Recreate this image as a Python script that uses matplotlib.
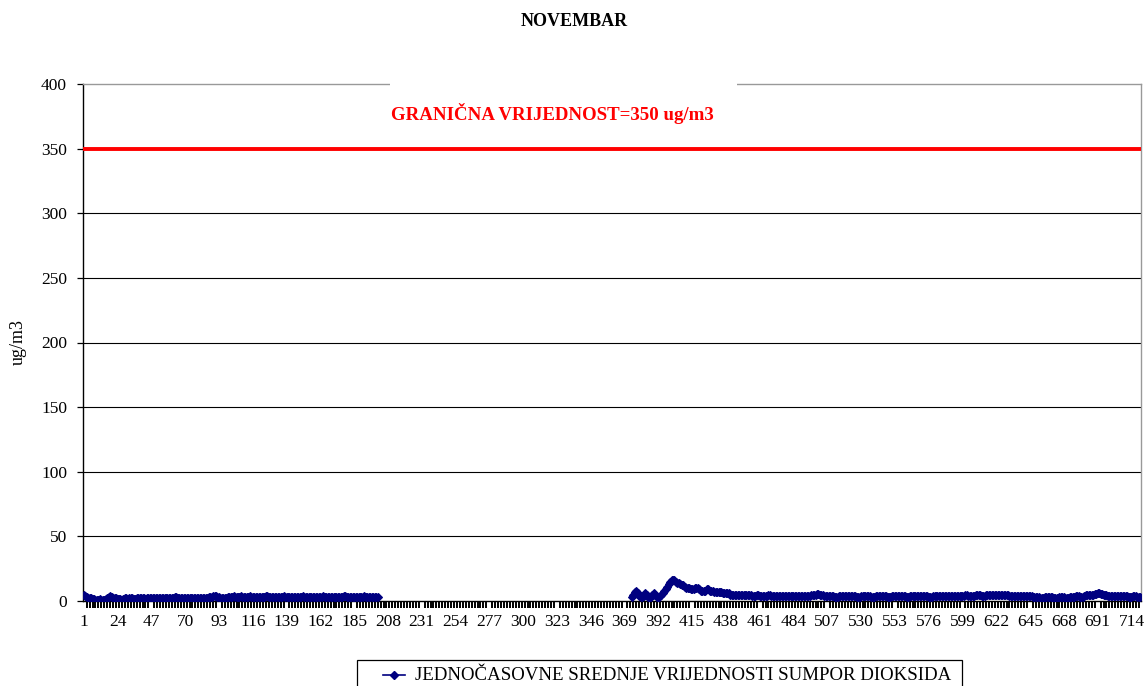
import numpy as np
import matplotlib
matplotlib.use("Agg")
import matplotlib.pyplot as plt
from matplotlib.lines import Line2D

title = "NOVEMBAR"
ylabel = "ug/m3"
limit_value = 350
limit_label = "GRANIČNA VRIJEDNOST=350 ug/m3"
series_label = "JEDNOČASOVNE SREDNJE VRIJEDNOSTI SUMPOR DIOKSIDA"
n_hours = 720
tick_labels = list(range(1, n_hours + 1, 23))
y_ticks = [0, 50, 100, 150, 200, 250, 300, 350, 400]

left_start = 1
left_values = [
    5, 4, 3, 2.5, 2, 2, 1.5, 1.5, 1, 1,
    1, 1.5, 1, 1, 1, 1.5, 2, 3, 3.5, 3,
    2.5, 2, 2, 1.5, 1.5, 1.5, 1, 1.5, 2, 2,
    1.5, 2, 2, 2, 1.5, 1.5, 2, 2, 2, 2,
    2, 2, 1.5, 2, 2, 2, 2, 2, 2.5, 2,
    2, 2, 2, 2.5, 2, 2, 2.5, 2.5, 2, 2,
    2.5, 2.5, 3, 3, 2.5, 2.5, 2, 2, 2, 2,
    2, 2, 2, 2, 2, 2, 2, 2, 2, 2.5,
    2.5, 2.5, 2.5, 2.5, 2.5, 3, 3, 3, 3.5, 3.5,
    3.5, 3, 3, 2.5, 2.5, 2, 2.5, 2.5, 3, 3,
    3, 3, 3.5, 3, 3, 3, 3, 3.5, 3, 3,
    3, 3, 3, 3.5, 3, 3, 3, 3, 3, 3,
    3, 3, 3, 3, 3.5, 3.5, 3, 3, 3, 3,
    3, 3, 3, 3, 3, 3, 3.5, 3, 3, 3,
    3, 3, 3, 3, 3, 3, 3, 3, 3, 3.5,
    3, 3, 3, 3, 3, 3, 3, 3, 3, 3,
    3, 3, 3, 3.5, 3, 3, 3, 3, 3, 3,
    3, 3, 3, 3, 3, 3, 3, 3.5, 3.5, 3,
    3, 3, 3, 3, 3, 3, 3, 3, 3, 3,
    3, 3.5, 3, 3, 3, 3, 3, 3, 3, 3,
    3,
]

right_start = 374
right_values = [
    3, 5, 7, 8, 6, 4, 3, 3, 4, 6,
    5, 3, 2, 3, 5, 6, 5, 3, 2, 4,
    5, 6, 8, 9, 11, 13, 15, 16, 16, 16,
    15, 14, 14, 13, 12, 12, 11, 10, 10, 10,
    9, 9, 9, 10, 10, 10, 9, 8, 8, 8,
    8, 9, 9, 8, 8, 8, 7, 7, 7, 7,
    7, 7, 6, 6, 6, 6, 6, 5, 5, 5,
    5, 5, 5, 4.5, 4.5, 5, 5, 5, 4.5, 4.5,
    4.5, 4.5, 4, 4, 4, 4.5, 4.5, 4, 4, 4,
    4, 4, 4, 4.5, 4.5, 4, 4, 4, 4, 4,
    4, 4, 4, 3.5, 3.5, 4, 4, 4, 4, 3.5,
    3.5, 3.5, 4, 4, 4, 3.5, 3.5, 3.5, 4, 4,
    4, 4, 4.5, 4.5, 5, 5, 5.5, 5.5, 5, 5,
    4.5, 4, 4, 3.5, 3.5, 3.5, 3.5, 3.5, 3, 3,
    3, 3.5, 3.5, 3.5, 4, 4, 4, 3.5, 3.5, 3.5,
    3.5, 3.5, 3.5, 3, 3, 3, 3.5, 3.5, 3.5, 3.5,
    3.5, 3.5, 3.5, 3, 3, 3, 3.5, 4, 4, 4,
    3.5, 3.5, 3.5, 3.5, 3, 3, 3, 3.5, 3.5, 3.5,
    3.5, 4, 4, 3.5, 3.5, 3.5, 3.5, 3, 3, 3.5,
    3.5, 3.5, 3.5, 4, 4, 4, 4, 3.5, 3.5, 3.5,
    3.5, 3.5, 3, 3, 3, 3.5, 3.5, 3.5, 3.5, 3.5,
    3.5, 3.5, 3.5, 3.5, 4, 4, 4, 3.5, 3.5, 3.5,
    3.5, 3.5, 3.5, 4, 4, 4, 4, 4.5, 4.5, 4,
    4, 4, 4, 4, 4.5, 4.5, 4.5, 4.5, 4, 4,
    4, 4.5, 4.5, 4.5, 5, 5, 5, 4.5, 4.5, 4.5,
    4.5, 4.5, 4.5, 4.5, 4.5, 4.5, 4.5, 4, 4, 4,
    4, 4, 4, 4, 4, 4, 4, 3.5, 3.5, 3.5,
    3.5, 3.5, 3.5, 3, 3, 3, 3, 3, 2.5, 2.5,
    2.5, 3, 3, 3, 3, 3, 3, 2.5, 2.5, 2.5,
    2.5, 3, 3, 3, 3, 2.5, 2.5, 2.5, 3, 3,
    3, 3, 3.5, 3.5, 3.5, 3, 3, 3, 4, 4.5,
    4.5, 5, 5, 5, 5, 5.5, 5.5, 6, 6, 5.5,
    5.5, 5, 5, 4.5, 4, 4, 3.5, 3.5, 3.5, 4,
    4, 3.5, 3.5, 3.5, 4, 4, 3.5, 3.5, 3, 3,
    3, 3.5, 3.5, 3.5, 3, 3, 3,
]

# build full hourly series with gap
hours = np.arange(1, n_hours + 1)
values = np.full(n_hours, np.nan)
values[left_start - 1:left_start - 1 + len(left_values)] = left_values
values[right_start - 1:right_start - 1 + len(right_values)] = right_values

plt.rcParams['font.family'] = ['Liberation Serif', 'DejaVu Serif']

W, H = 1148, 686
fig = plt.figure(figsize=(W / 100, H / 100), dpi=100)
ax = fig.add_axes([83 / W, 1 - 601 / H, (1141 - 83) / W, (601 - 84) / H])

navy = '#000080'
ax.plot(hours, values, color=navy, lw=1.6, marker='D', ms=4,
        markeredgewidth=0.8, zorder=3)
ax.axhline(limit_value, color='#ff0000', lw=2.8, zorder=4)

ax.set_xlim(0.5, n_hours + 0.5)
ax.set_ylim(0, 400)
ax.set_yticks(y_ticks)
ax.set_yticklabels([str(v) for v in y_ticks], fontsize=12.5)
ax.set_xticks(tick_labels)
ax.set_xticklabels([str(v) for v in tick_labels], fontsize=12.5)
ax.set_xticks(np.arange(1, n_hours + 1, 2), minor=True)
ax.tick_params(axis='x', which='major', length=0, pad=9)
ax.tick_params(axis='x', which='minor', length=5, width=1.4, direction='out')
ax.tick_params(axis='y', which='major', length=4.5, width=0.9, direction='out', pad=7)

for y in y_ticks[1:-1]:
    ax.axhline(y, color='black', lw=0.8, zorder=1)

for s in ['top', 'right']:
    ax.spines[s].set_color('#999999')
    ax.spines[s].set_linewidth(1.0)
for s in ['left', 'bottom']:
    ax.spines[s].set_color('black')
    ax.spines[s].set_linewidth(1.0)

# white box with limit label covering top border
fig.patches.append(plt.Rectangle((390 / W, 1 - 132 / H), (737 - 390) / W, (132 - 76) / H,
                                 transform=fig.transFigure, facecolor='white',
                                 edgecolor='none', zorder=5))
fig.text(391 / W, 1 - 114 / H, limit_label, color='#ff0000',
         fontsize=13.6, fontweight='bold', va='center', ha='left', zorder=6)

fig.text(574 / W, 1 - 22 / H, title, fontsize=13, fontweight='bold',
         ha='center', va='center', zorder=7)
fig.text(18 / W, 1 - 342 / H, ylabel, fontsize=13, rotation=90,
         ha='center', va='center')

# legend box (drawn manually to match the reference layout)
fig.patches.append(plt.Rectangle((357 / W, -0.05), (962 - 357) / W, 0.05 + (686 - 660) / H,
                                 transform=fig.transFigure, facecolor='white',
                                 edgecolor='black', lw=0.9, zorder=5))
fig.lines.append(Line2D([383 / W, 405 / W], [1 - 675 / H, 1 - 675 / H],
                        transform=fig.transFigure, color=navy, lw=1.2, zorder=6))
fig.lines.append(Line2D([394 / W], [1 - 675 / H], transform=fig.transFigure,
                        color=navy, marker='D', ms=4.5, zorder=6))
fig.text(415 / W, 1 - 675 / H, series_label, fontsize=13.6, ha='left',
         va='center', zorder=6)

fig.savefig('out.png', dpi=100)
